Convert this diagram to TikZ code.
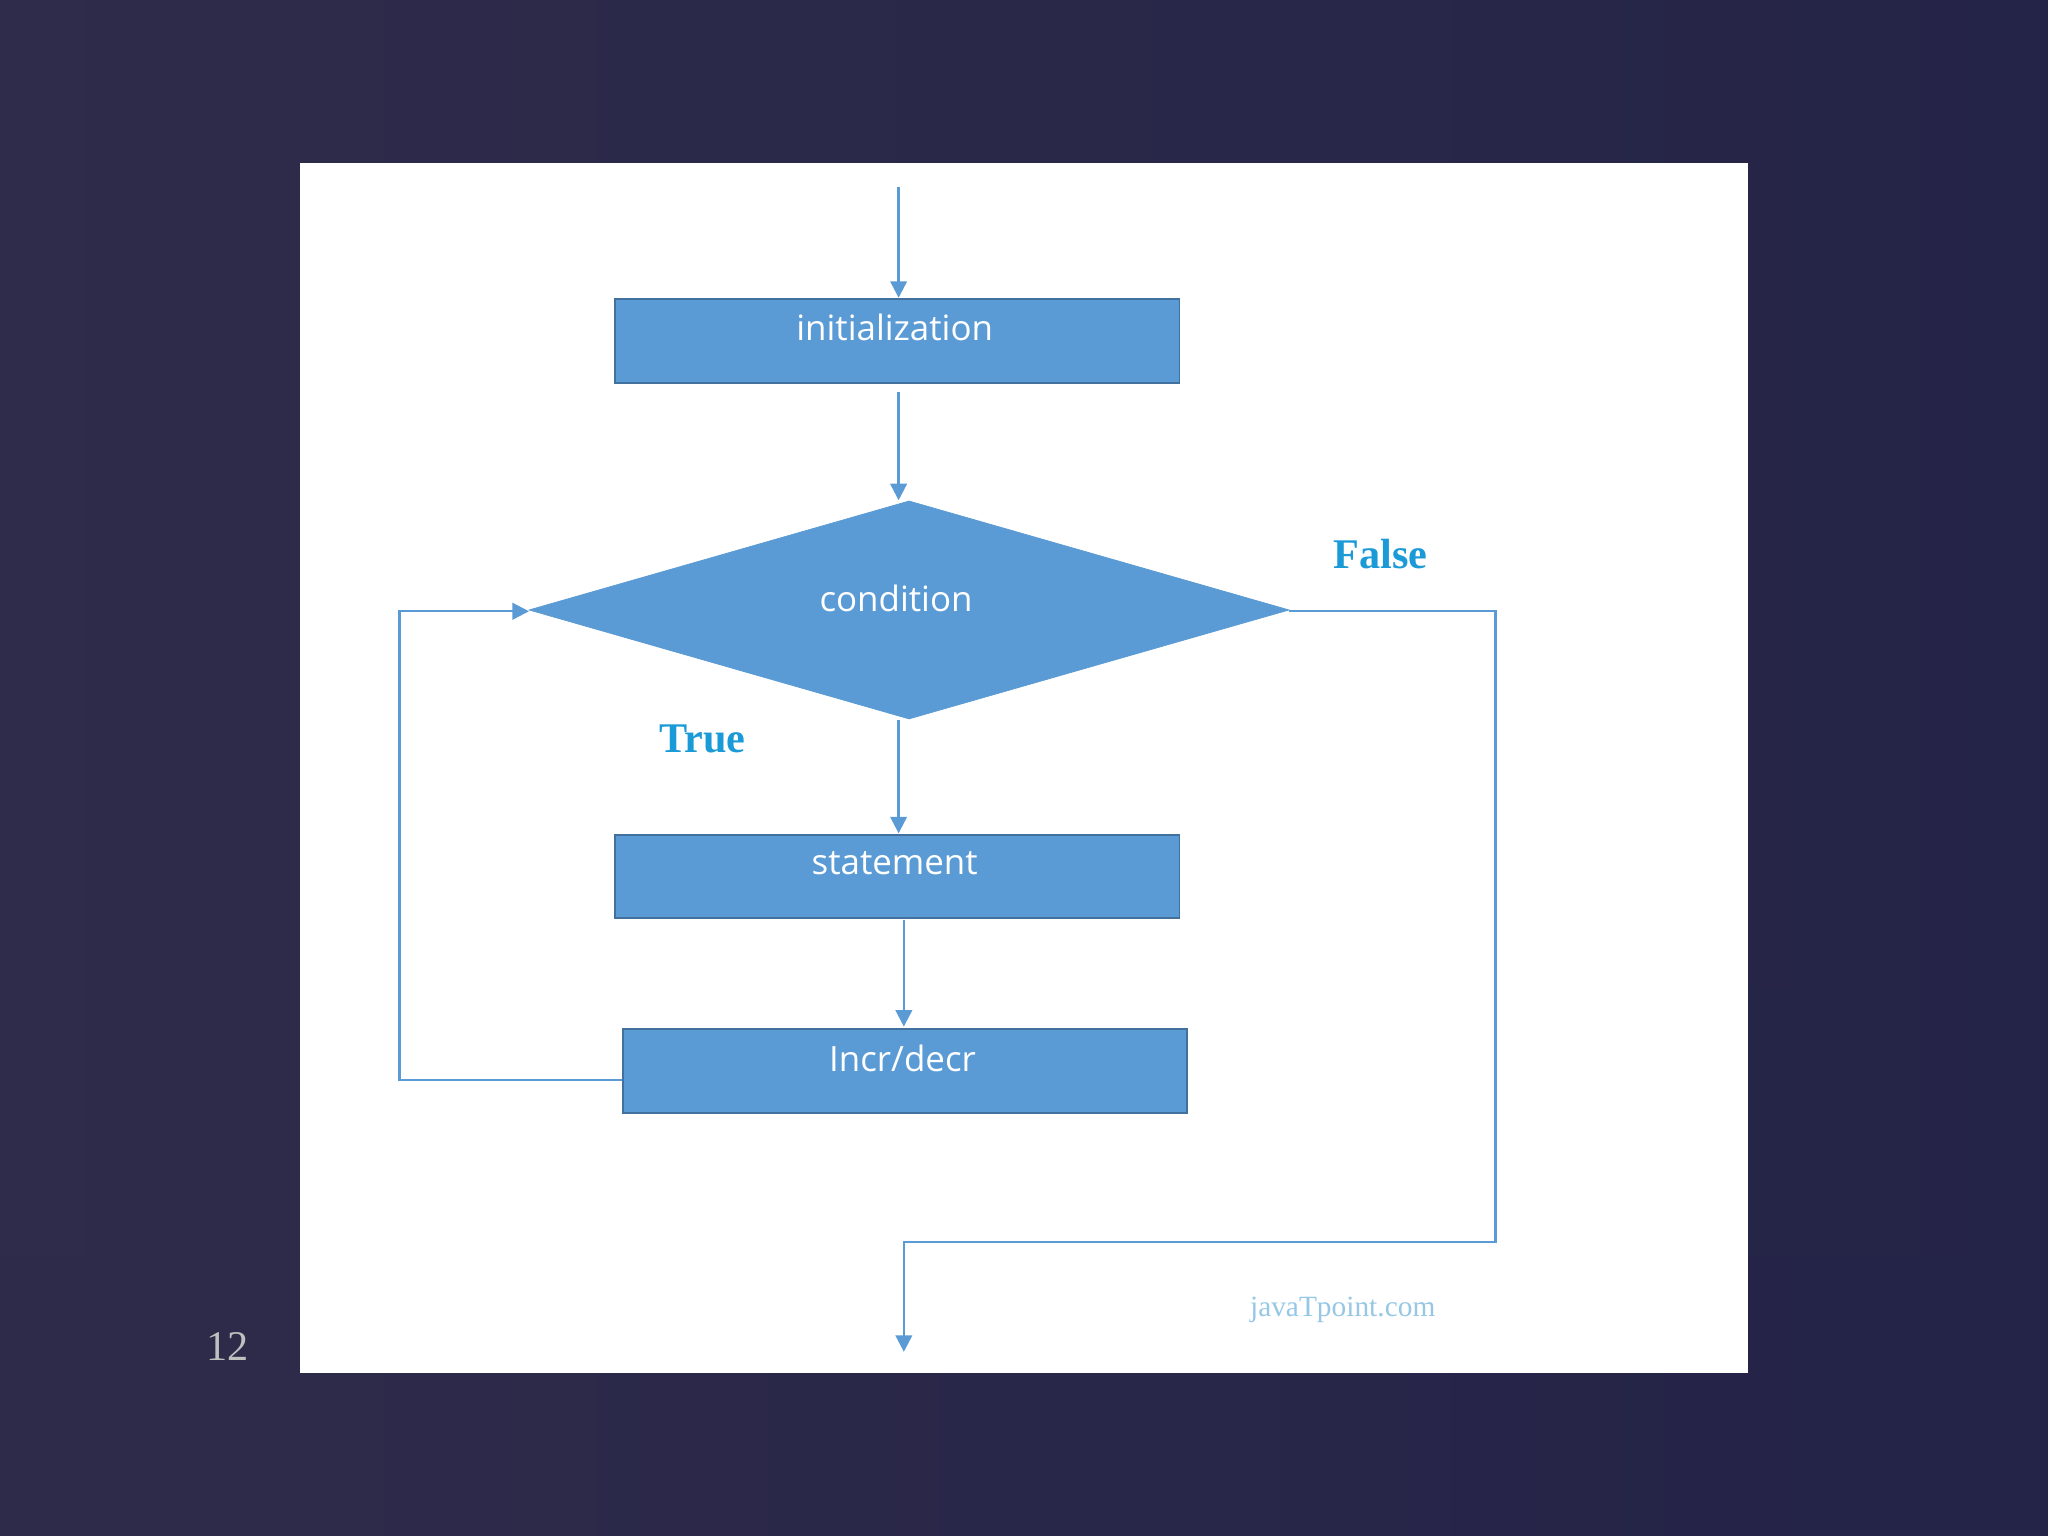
\documentclass[tikz,border=0pt]{standalone}
\usepackage{fontspec}
\setmainfont{Liberation Serif}
\setsansfont{Open Sans}
\usetikzlibrary{shapes.geometric,arrows.meta}
\definecolor{bx}{HTML}{5B9BD5}
\definecolor{bd}{HTML}{41719C}
\definecolor{lbl}{HTML}{1A9AD6}
\begin{document}
\begin{tikzpicture}[x=0.025cm,y=-0.025cm,
  box/.style={draw=bd,fill=bx,line width=1pt,minimum width=432*0.025cm,minimum height=64*0.025cm,inner sep=0pt},
  txt/.style={text=white,font=\sffamily\fontsize{19}{22}\selectfont},
  ln/.style={draw=bx,line width=1.3pt},
  ar/.style={ln,-{Triangle[length=9pt,width=9pt]}},
  tf/.style={text=lbl,font=\bfseries\fontsize{23}{26}\selectfont}]
\shade[top color=black!40!blue!25!gray!60!black,bottom color=black!60!blue!30!black]
  (0,0) rectangle (1568,1176);
\fill[left color={rgb,255:red,52;green,48;blue,82},right color={rgb,255:red,40;green,40;blue,80},opacity=0.9] (0,0) rectangle (1568,1176);
\useasboundingbox (0,0) rectangle (1568,1176);
\fill[white] (230,125) rectangle (1338,1051);
\coordinate (top) at (688,143);
\node[box] (init) at (687,261) {};
\node[txt] at (685,251) {initialization};
\node[diamond,aspect=3.48,fill=bx,draw=bx,inner sep=0pt,minimum width=582*0.025cm,minimum height=167*0.025cm] (cond) at (696,467) {};
\node[txt] at (686,458) {condition};
\node[box] (stmt) at (687,671) {};
\node[txt] at (685,661) {statement};
\node[box] (inc) at (693,820) {};
\node[txt] at (691,810) {Incr/decr};
\node[tf] at (538,566) {True};
\node[tf] at (1057,424) {False};
\node[text={rgb,255:red,150;green,200;blue,230},font=\fontsize{16}{18}\selectfont] at (1028,1003) {javaTpoint.com};
\node[text=gray!50,font=\fontsize{23}{26}\selectfont] at (174,1031) {12};
\coordinate (endp) at (692,1035);
\draw[ar] (top) -- (688,228);
\draw[ar] (688,300) -- (688,383);
\draw[ar] (688,551) -- (688,638);
\draw[ar] (692,704) -- (692,786);
\draw[ar] (inc.west |- 0,827) -- (306,827) -- (306,468) -- (405,468);
\draw[ar] (987,468) -- (1145,468) -- (1145,951) -- (692,951) -- (endp);
\end{tikzpicture}
\end{document}
